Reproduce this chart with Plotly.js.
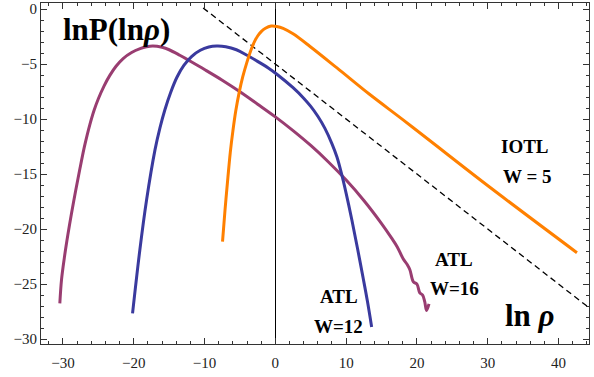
<!DOCTYPE html>
<html>
<head>
<meta charset="utf-8">
<script src="https://cdn.plot.ly/plotly-3.0.1.min.js"></script>
<style>
html,body{margin:0;padding:0;background:#fff;}
#chart{width:594px;height:377px;}
</style>
</head>
<body>
<div id="chart"></div>
<script>
// ATL, W=16 (purple)
const atl16X = [-30.44, -30.2, -29.8, -29.3, -28.8, -28.2, -27.6, -27.0, -26.6, -26.2, -25.6, -25.0, -24.2, -23.4, -22.5, -21.5, -20.3, -19.1, -18.2, -17.3, -16.0, -15.0, -13.5, -12.0, -10.0, -7.5, -5.0, -2.5, 0.0, 2.5, 5.0, 7.5, 10.0, 12.5, 15.0, 16.4, 17.2, 18.05, 18.6, 19.0, 19.5, 20.0, 20.4, 20.8, 21.1, 21.35, 21.7];
const atl16Y = [-26.75, -24.6, -22.6, -20.5, -18.6, -16.5, -14.5, -12.6, -11.5, -10.5, -9.2, -8.15, -7.0, -6.05, -5.2, -4.5, -3.95, -3.6, -3.43, -3.36, -3.48, -3.7, -4.2, -4.75, -5.5, -6.47, -7.52, -8.65, -9.8, -11.05, -12.4, -13.9, -15.55, -17.4, -19.5, -20.8, -21.6, -22.7, -23.2, -23.7, -24.8, -25.0, -25.8, -26.0, -26.6, -27.4, -26.8];

// ATL, W=12 (blue)
const atl12X = [-20.17, -19.14, -18.2, -17.0, -16.3, -15.6, -14.8, -13.9, -12.9, -11.8, -10.6, -9.4, -8.3, -7.0, -5.5, -4.0, -2.4, -1.0, 0.17, 2.5, 4.0, 5.0, 6.0, 7.0, 8.0, 8.7, 9.3, 10.0, 10.8, 11.6, 12.4, 13.0, 13.6];
const atl12Y = [-27.67, -21.9, -17.4, -12.8, -10.8, -9.15, -7.6, -6.2, -5.1, -4.3, -3.75, -3.45, -3.36, -3.42, -3.7, -4.2, -4.8, -5.35, -5.9, -7.15, -8.1, -8.85, -9.75, -10.85, -12.25, -13.45, -14.85, -16.75, -19.15, -21.75, -24.45, -26.55, -28.9];

// IOTL, W=5 (orange)
const iotlX = [-7.46, -7.1, -6.7, -6.36, -6.0, -5.6, -5.1, -4.6, -4.0, -3.4, -2.9, -2.5, -2.0, -1.4, -0.6, 0.2, 1.1, 2.5, 4.9, 8.7, 13.3, 18.0, 21.8, 30.3, 42.6];
const iotlY = [-21.14, -18.2, -15.3, -13.0, -11.1, -9.3, -7.55, -6.15, -4.8, -3.65, -2.9, -2.45, -2.05, -1.75, -1.55, -1.58, -1.75, -2.25, -3.4, -5.35, -7.75, -10.05, -11.95, -16.2, -22.15];

// reference power-law (dashed)
const refX = [-10.2, 44.3];
const refY = [0.1, -27.15];

// tick values
const xTicks = [-30, -20, -10, 0, 10, 20, 30, 40];
const yTicks = [0, -5, -10, -15, -20, -25, -30];

const serif = "Liberation Serif";

const traces = [
  {x: refX, y: refY, mode: 'lines', line: {color: '#000', width: 1.3, dash: '6px,4px'}, hoverinfo: 'skip'},
  {x: atl16X, y: atl16Y, mode: 'lines', line: {color: 'rgb(153,61,113)', width: 3, shape: 'spline', smoothing: 1}},
  {x: atl12X, y: atl12Y, mode: 'lines', line: {color: 'rgb(58,58,158)', width: 3, shape: 'spline', smoothing: 1}},
  {x: iotlX, y: iotlY, mode: 'lines', line: {color: 'rgb(255,128,0)', width: 3, shape: 'spline', smoothing: 1}}
];

const boldTxt = (txt, x, y, size) => ({
  text: txt, x: x, y: y, xref: 'x', yref: 'y', showarrow: false,
  xanchor: 'center', yanchor: 'middle',
  font: {family: serif, size: size, color: '#000', weight: 'bold'}
});

const layout = {
  width: 594, height: 377,
  margin: {l: 41, r: 5, t: 3, b: 33},
  paper_bgcolor: '#fff', plot_bgcolor: '#fff',
  showlegend: false,
  font: {family: serif, size: 15, color: '#222'},
  xaxis: {
    range: [-33.1, 44.3], tickvals: xTicks, ticks: 'inside', ticklen: 6, tickwidth: 1, tickcolor: '#333',
    showline: true, linecolor: '#333', linewidth: 1, mirror: 'allticks',
    showgrid: false, zeroline: true, zerolinecolor: '#000', zerolinewidth: 1,
    ticklabelstandoff: 5,
    minor: {dtick: 2, tick0: 0, ticks: 'inside', ticklen: 3, tickcolor: '#333', showgrid: false},
    tickfont: {family: serif, size: 15, color: '#222'}
  },
  yaxis: {
    range: [-30.45, 0.55], tickvals: yTicks, ticks: 'inside', ticklen: 6, tickwidth: 1, tickcolor: '#333',
    showline: true, linecolor: '#333', linewidth: 1, mirror: 'allticks',
    showgrid: false, zeroline: false,
    minor: {dtick: 1, tick0: 0, ticks: 'inside', ticklen: 3, tickcolor: '#333', showgrid: false},
    tickfont: {family: serif, size: 15, color: '#222'}
  },
  annotations: [
    boldTxt('lnP(ln<i>ρ</i>)', -22.5, -1.9, 31),
    boldTxt('ln <i>ρ</i>', 35.9, -27.9, 31),
    boldTxt('IOTL', 35.2, -12.5, 19),
    boldTxt('W = 5', 35.5, -15.25, 19),
    boldTxt('ATL', 25.2, -22.75, 19),
    boldTxt('W=16', 25.35, -25.4, 19),
    boldTxt('ATL', 9.0, -26.15, 19),
    boldTxt('W=12', 8.97, -28.9, 19)
  ]
};

Plotly.newPlot('chart', traces, layout, {displayModeBar: false, staticPlot: true});
</script>
</body>
</html>
